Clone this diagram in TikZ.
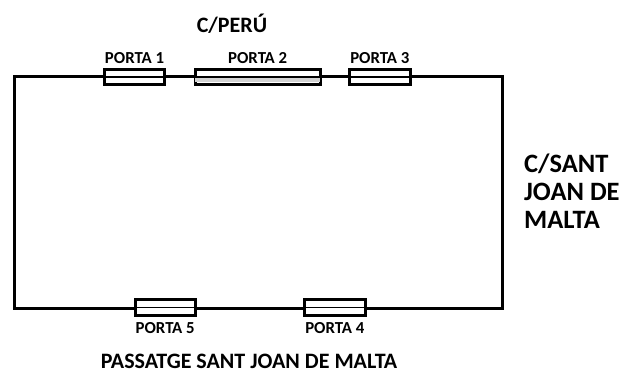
\documentclass[tikz,border=0pt]{standalone}
\usepackage{fontspec}
\setmainfont{Carlito}
\begin{document}
\begin{tikzpicture}[x=1pt,y=-1pt,
  wall/.style={line width=3pt,line join=miter},
  door/.style={draw,line width=3pt,fill=white,inner sep=0pt,minimum height=15.5pt},
  doormid/.style={line width=1.6pt},
  doorlbl/.style={font=\bfseries\fontsize{16.8}{18}\selectfont,inner sep=0pt,anchor=base},
  biglbl/.style={font=\bfseries\fontsize{22}{28}\selectfont,inner sep=0pt},
  sidelbl/.style={font=\bfseries\fontsize{26.5}{28}\selectfont,inner sep=0pt}]
\useasboundingbox (0,0) rectangle (624,374);
\coordinate (tl) at (14,77);
\coordinate (br) at (502,308);
\draw[wall] (tl) rectangle (br);
% doors
\node[door,minimum width=60pt] (d1) at (134.5,77) {};
\node[door,minimum width=125pt] (d2) at (257.7,77) {};
\node[door,minimum width=60.5pt] (d3) at (379.8,77) {};
\node[door,minimum width=60pt] (d5) at (165.2,307.5) {};
\node[door,minimum width=60.5pt] (d4) at (334.8,307.5) {};
\fill[gray!35] ([xshift=1.5pt,yshift=-0.5pt]d2.west) rectangle ([xshift=-1.5pt,yshift=-5pt]d2.east);
\foreach \d in {d1,d2,d3,d4,d5}{\draw[doormid] (\d.west) -- (\d.east);}
% labels
\node[doorlbl] (l1) at (134.5,64) {PORTA 1};
\node[doorlbl] (l2) at (257.7,64) {PORTA 2};
\node[doorlbl] (l3) at (379.8,64) {PORTA 3};
\node[doorlbl] (l5) at (165.2,333) {PORTA 5};
\node[doorlbl] (l4) at (334.8,333) {PORTA 4};
\node[biglbl,anchor=base] (peru) at (232,33) {C/PERÚ};
\node[sidelbl,anchor=north west,align=left] (sant) at (524,154) {C/SANT\\JOAN DE\\MALTA};
\node[biglbl,anchor=base] (pass) at (249,368) {PASSATGE SANT JOAN DE MALTA};
\end{tikzpicture}
\end{document}
